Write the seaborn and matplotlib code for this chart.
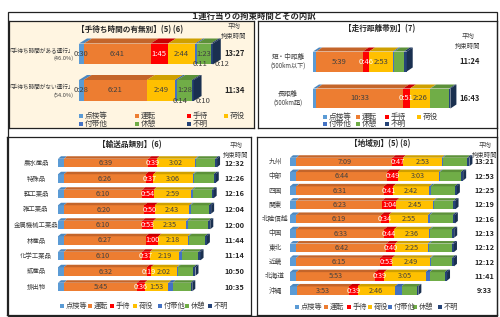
import pandas as pd
import seaborn as sns
import matplotlib.pyplot as plt
from matplotlib.patches import Polygon, Rectangle

W, H = 500, 317

ITEMS = ["点検等", "運転", "手待", "荷役", "付帯他", "休憩", "不明"]
COLORS = ["#5B9BD5", "#ED7D31", "#FF0000", "#FFC000", "#4472C4", "#70AD47", "#264478"]
TOP_COLORS = ["#4C88C0", "#C4652A", "#C80000", "#CFA000", "#3A62A8", "#5C9139", "#1D3660"]
SIDE_COLOR = "#1A3050"

# 手待ち時間の有無別
wait_cats = ["「手待ち時間がある運行」", "「手待ち時間がない運行」"]
wait_share = ["(46.0%)", "(54.0%)"]
wait_inspect = ["0:30", "0:28"]
wait_drive = ["6:41", "6:21"]
wait_wait = ["1:45", "0:00"]
wait_load = ["2:44", "2:49"]
wait_other = ["0:11", "0:14"]
wait_rest = ["1:23", "1:28"]
wait_unknown = ["0:12", "0:10"]
wait_total = ["13:27", "11:34"]

# 走行距離帯別
dist_cats = ["短・中距離", "長距離"]
dist_sub = ["(500km以下)", "(500km超)"]
dist_inspect = ["0:24", "0:24"]
dist_drive = ["5:39", "10:33"]
dist_wait = ["0:46", "0:51"]
dist_load = ["2:53", "2:26"]
dist_other = ["0:12", "0:03"]
dist_rest = ["1:09", "2:16"]
dist_unknown = ["0:21", "0:10"]
dist_total = ["11:24", "16:43"]

# 輸送品類別
cargo_cats = ["農水産品", "特殊品", "軽工業品", "雑工業品", "金属機械工業品",
              "林産品", "化学工業品", "鉱産品", "排出物"]
cargo_inspect = ["0:28", "0:28", "0:28", "0:28", "0:28", "0:28", "0:28", "0:28", "0:28"]
cargo_drive = ["6:39", "6:26", "6:10", "6:20", "6:10", "6:27", "6:10", "6:32", "5:45"]
cargo_wait = ["0:39", "0:37", "0:54", "0:50", "0:53", "1:00", "0:37", "0:19", "0:36"]
cargo_load = ["3:02", "3:06", "2:59", "2:43", "2:35", "2:18", "2:19", "2:02", "1:53"]
cargo_other = ["0:05", "0:05", "0:06", "0:06", "0:11", "0:05", "0:11", "0:05", "0:20"]
cargo_rest = ["1:29", "1:34", "1:29", "1:27", "1:33", "1:16", "1:19", "1:14", "1:25"]
cargo_unknown = ["0:10", "0:10", "0:10", "0:10", "0:10", "0:10", "0:10", "0:10", "0:08"]
cargo_total = ["12:32", "12:26", "12:16", "12:04", "12:00", "11:44", "11:14", "10:50", "10:35"]

# 地域別
region_cats = ["九州", "中部", "四国", "関東", "北陸信越", "中国", "東北", "近畿", "北海道", "沖縄"]
region_inspect = ["0:28", "0:28", "0:28", "0:28", "0:28", "0:28", "0:28", "0:28", "0:28", "0:30"]
region_drive = ["7:09", "6:44", "6:31", "6:23", "6:19", "6:33", "6:42", "6:15", "5:53", "3:53"]
region_wait = ["0:47", "0:49", "0:41", "1:04", "0:34", "0:44", "0:40", "0:53", "0:39", "0:39"]
region_load = ["2:53", "3:03", "2:42", "2:45", "2:55", "2:36", "2:25", "2:49", "3:05", "2:46"]
region_other = ["0:05", "0:05", "0:08", "0:05", "0:08", "0:05", "0:07", "0:05", "0:18", "0:30"]
region_rest = ["1:49", "1:34", "1:45", "1:24", "1:42", "1:37", "1:40", "1:32", "1:08", "1:10"]
region_unknown = ["0:10", "0:10", "0:10", "0:10", "0:10", "0:10", "0:10", "0:10", "0:10", "0:05"]
region_total = ["13:21", "12:53", "12:25", "12:19", "12:16", "12:13", "12:12", "12:12", "11:41", "9:33"]

TXT = "#404040"


def hm(s):
    h, m = s.split(":")
    return int(h) * 60 + int(m)


def fmt(v):
    return f"{v // 60}:{v % 60:02d}"


def make_df(cats, cols):
    return pd.DataFrame({item: [hm(v) for v in col] for item, col in zip(ITEMS, cols)}, index=cats)


def ftext(fig, x, y, s, **kw):
    kw.setdefault("ha", "center")
    kw.setdefault("va", "center")
    fig.text(x / W, 1 - y / H, s, **kw)


def panel(fig, box, df, x0, k, y0, step, bar_px, depth, lift, face="white"):
    left, top, right, bottom = box
    ax = fig.add_axes([left / W, 1 - bottom / H, (right - left) / W, (bottom - top) / H])
    cats = list(df.index)
    cum = df.cumsum(axis=1)
    # stacked bars: draw cumulative totals from the longest to the shortest
    for item, color in reversed(list(zip(ITEMS, COLORS))):
        sns.barplot(x=cum[item].to_numpy(), y=cats, order=cats, orient="h", color=color,
                    width=bar_px / step, saturation=1, errorbar=None, linewidth=0, ax=ax)
    # 3D look: top faces and the right side face
    hh = bar_px / step / 2
    dxd, dyd = depth / k, lift / step
    for i, cat in enumerate(cats):
        yt, yb = i - hh, i + hh
        for j, item in enumerate(ITEMS):
            v = df.loc[cat, item]
            if v == 0:
                continue
            r = cum.loc[cat, item]
            l = r - v
            ax.add_patch(Polygon([(l, yt), (r, yt), (r + dxd, yt - dyd), (l + dxd, yt - dyd)],
                                 closed=True, fc=TOP_COLORS[j], lw=0))
        R = cum.loc[cat, ITEMS[-1]]
        ax.add_patch(Polygon([(R, yt), (R + dxd, yt - dyd), (R + dxd, yb - dyd), (R, yb)],
                             closed=True, fc=SIDE_COLOR, lw=0))
    ax.set_xlim((left - x0) / k, (right - x0) / k)
    ax.set_ylim((bottom - y0) / step, (top - y0) / step)
    ax.set_xticks([])
    ax.set_yticks([])
    ax.set_xlabel("")
    ax.set_ylabel("")
    ax.set_facecolor(face)
    for s in ax.spines.values():
        s.set_visible(True)
        s.set_color("#222222")
        s.set_linewidth(0.9)
    return ax, cum


def seg_labels(ax, df, cum, items, size=5.5, below=(), below_dx=None):
    hh = 0.28
    for i, cat in enumerate(df.index):
        for item in items:
            v = df.loc[cat, item]
            if v == 0:
                continue
            x = cum.loc[cat, item] - v / 2
            color = "white" if item == "手待" else TXT
            ax.text(x, i, fmt(v), ha="center", va="center", fontsize=size, color=color)
        for item in below:
            v = df.loc[cat, item]
            x = cum.loc[cat, item] - v / 2 + below_dx[item]
            ax.text(x, i + hh, fmt(v), ha="center", va="center", fontsize=size, color=TXT)


def legend(fig, y, xs, idx, size=5.2):
    for x, j in zip(xs, idx):
        fig.add_artist(Rectangle((x / W, 1 - (y + 2.2) / H), 4.4 / W, 4.4 / H,
                                 transform=fig.transFigure, fc=COLORS[j], lw=0))
        ftext(fig, x + 6, y, ITEMS[j], ha="left", fontsize=size, color=TXT)


def main():
    fig = plt.figure(figsize=(W / 100, H / 100), dpi=100)
    fig.add_artist(Rectangle((8 / W, 1 - 316 / H), 489 / W, 304 / H, transform=fig.transFigure,
                             fill=False, ec="#222222", lw=0.9))
    ftext(fig, 253, 16, "１運行当りの拘束時間とその内訳", fontsize=6, fontweight="bold")

    # 手待ち時間の有無別
    wait = make_df(wait_cats, [wait_inspect, wait_drive, wait_wait, wait_load,
                               wait_other, wait_rest, wait_unknown])
    ax, cum = panel(fig, (9, 21, 254, 128), wait, 79, 0.166, 54, 36.5, 21, 8, 5, face="#FFF5E1")
    seg_labels(ax, wait, cum, ["点検等", "運転", "手待", "荷役", "休憩"],
               below=["付帯他", "不明"], below_dx={"付帯他": 25, "不明": 60})
    ftext(fig, 130, 30, "【手待ち時間の有無別】(5) (6)", fontsize=5.5, fontweight="bold")
    ftext(fig, 234, 31, "平均\n拘束時間", fontsize=4.6, color=TXT, linespacing=1.2)
    for cat, share, tot, y in zip(wait_cats, wait_share, wait_total, [54, 90.5]):
        ftext(fig, 74, y - 3, cat, ha="right", fontsize=4.1, color=TXT)
        ftext(fig, 74, y + 4.5, share, ha="right", fontsize=4.1, color=TXT)
        ftext(fig, 235, y, tot, fontsize=5.5, fontweight="bold")
    legend(fig, 116, [79, 135, 187, 224], [0, 1, 2, 3], size=5.5)
    legend(fig, 124, [79, 135, 187], [4, 5, 6], size=5.5)

    # 走行距離帯別
    dist = make_df(dist_cats, [dist_inspect, dist_drive, dist_wait, dist_load,
                               dist_other, dist_rest, dist_unknown])
    ax, cum = panel(fig, (258, 21, 497, 128), dist, 313, 0.137, 61.5, 37, 20, 6, 4)
    seg_labels(ax, dist, cum, ["運転", "手待", "荷役"])
    ftext(fig, 380, 29, "【走行距離帯別】(7)", fontsize=5.5, fontweight="bold")
    ftext(fig, 468, 41, "平均\n拘束時間", fontsize=4.6, color=TXT, linespacing=1.2)
    for cat, sub, tot, y in zip(dist_cats, dist_sub, dist_total, [61.5, 98.5]):
        ftext(fig, 288, y - 4, cat, fontsize=4.8, color=TXT)
        ftext(fig, 288, y + 4, sub, fontsize=4.4, color=TXT)
        ftext(fig, 470, y, tot, fontsize=5.5, fontweight="bold")
    legend(fig, 117, [323, 356, 385, 417], [0, 1, 2, 3], size=5.5)
    legend(fig, 124, [323, 356, 385], [4, 5, 6], size=5.5)

    # 輸送品類別
    cargo = make_df(cargo_cats, [cargo_inspect, cargo_drive, cargo_wait, cargo_load,
                                 cargo_other, cargo_rest, cargo_unknown])
    ax, cum = panel(fig, (7, 137, 251, 315), cargo, 58, 0.2115, 163, 15.5, 8.5, 3, 2.5)
    seg_labels(ax, cargo, cum, ["運転", "手待", "荷役"], size=5.2)
    ftext(fig, 130, 145, "【輸送品類別】(6)", fontsize=5.5, fontweight="bold")
    ftext(fig, 236, 150, "平均\n拘束時間", fontsize=4.6, color=TXT, linespacing=1.2)
    for i, (cat, tot) in enumerate(zip(cargo_cats, cargo_total)):
        y = 163 + 15.5 * i
        ftext(fig, 36, y, cat, fontsize=4.6, color=TXT)
        ftext(fig, 234, y, tot, fontsize=5.3, fontweight="bold")
    legend(fig, 306, [60, 88, 110, 133, 158, 185, 208], range(7))

    # 地域別
    region = make_df(region_cats, [region_inspect, region_drive, region_wait, region_load,
                                   region_other, region_rest, region_unknown])
    ax, cum = panel(fig, (257, 137, 497, 315), region, 290, 0.224, 162, 14.3, 8.5, 3, 2.5)
    seg_labels(ax, region, cum, ["運転", "手待", "荷役"], size=5.2)
    ftext(fig, 380, 144, "【地域別】(5) (8)", fontsize=5.5, fontweight="bold")
    ftext(fig, 485, 150, "平均\n拘束時間", fontsize=4.6, color=TXT, linespacing=1.2)
    for i, (cat, tot) in enumerate(zip(region_cats, region_total)):
        y = 162 + 14.3 * i
        ftext(fig, 275, y, cat, fontsize=4.8, color=TXT)
        ftext(fig, 484, y, tot, fontsize=5.3, fontweight="bold")
    legend(fig, 307, [295, 324, 347, 368, 388, 413, 438], range(7))

    fig.savefig("out.png", dpi=100)


if __name__ == "__main__":
    sns.set_theme(style="white")
    plt.rcParams["font.family"] = ["Noto Sans CJK JP", "DejaVu Sans"]
    main()
